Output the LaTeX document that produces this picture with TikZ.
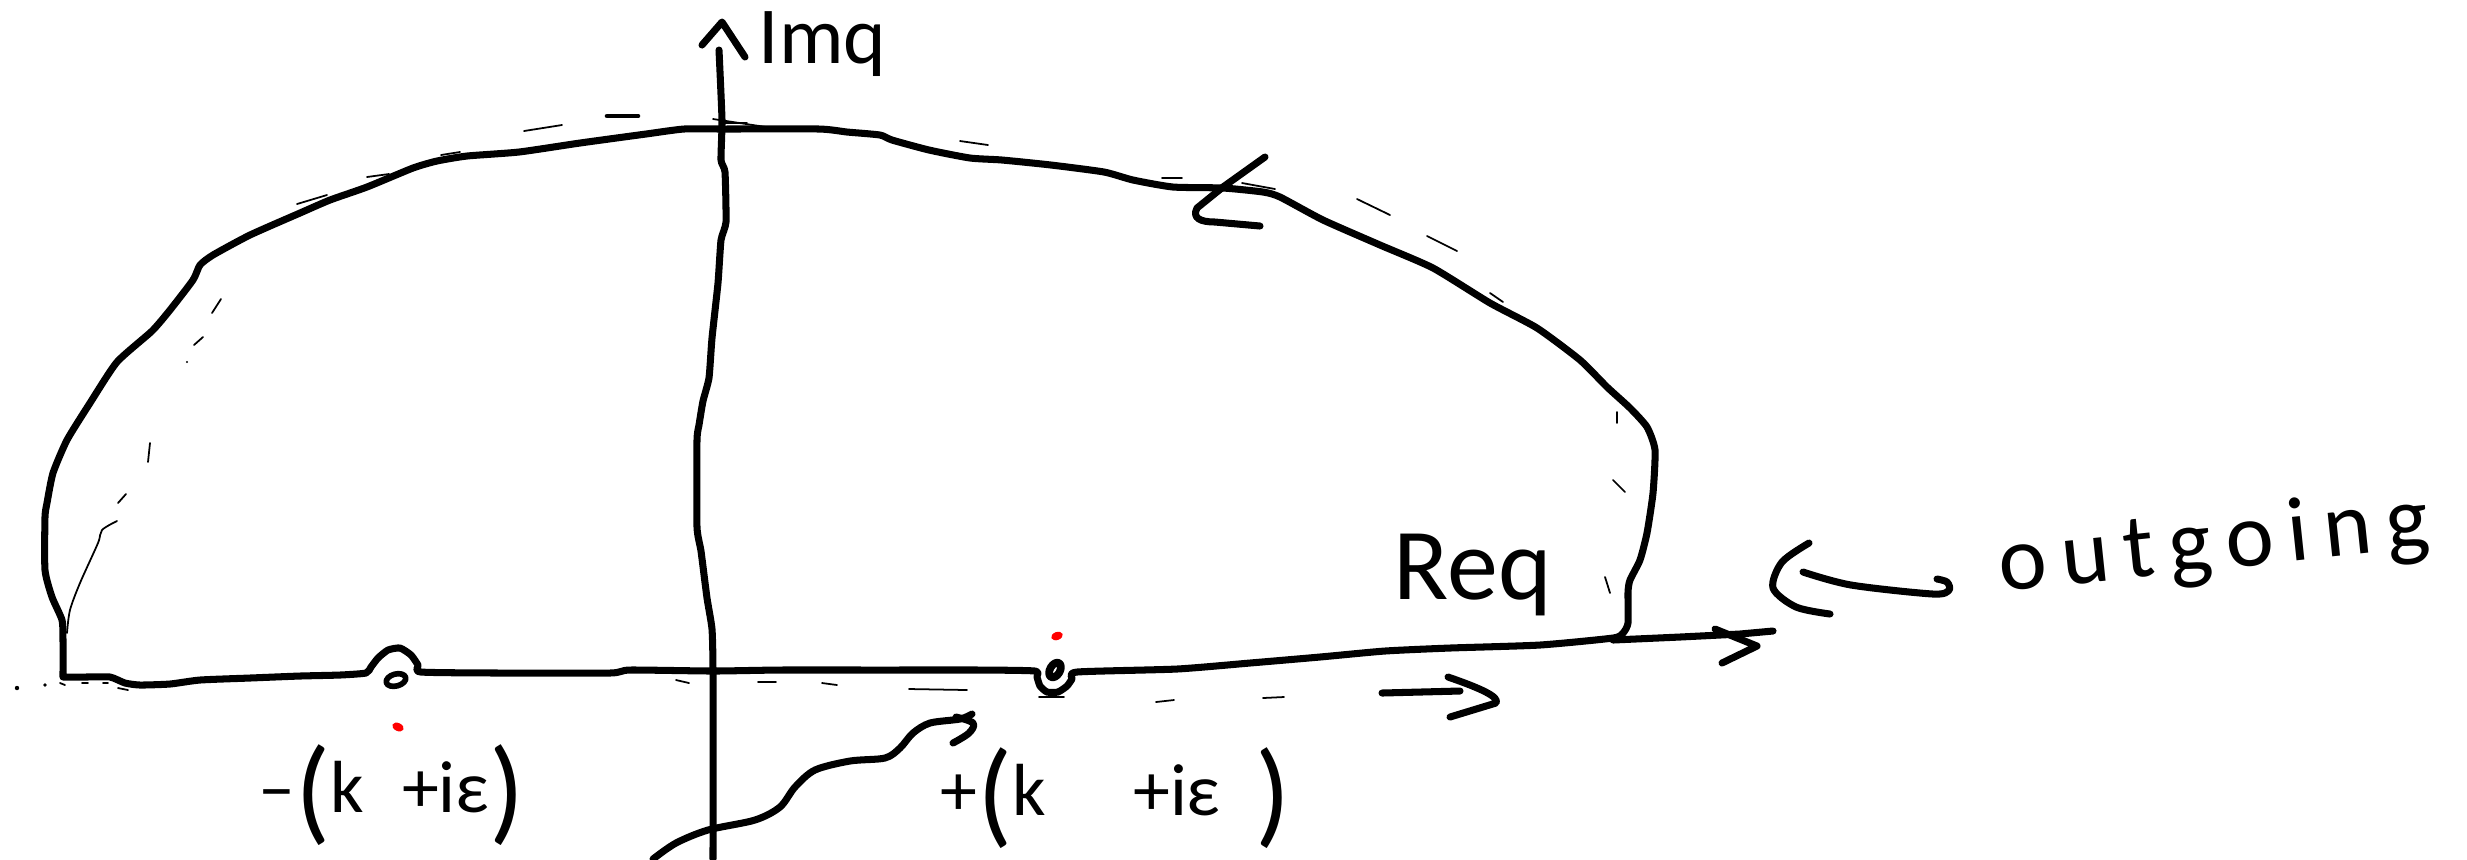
\documentclass[tikz,border=0pt]{standalone}
\usepackage{fontspec}
\setmainfont{Carlito}
\newfontfamily\widehand[LetterSpace=16]{Carlito}
\newcommand{\tallp}[1]{{\fontsize{33}{33}\selectfont\raisebox{-5pt}{#1}}}

\begin{document}
\begin{tikzpicture}[
        x=0.01cm, y=-0.01cm,
        pen/.style={line width=2pt, line cap=round, line join=round},
        faint/.style={line width=0.5pt, line cap=round},
        txt/.style={inner sep=0pt, anchor=base west},
        redmark/.style={fill=red, draw=none}
    ]
        \useasboundingbox (0,0) rectangle (2467,859);
        \fill[white] (0,0) rectangle (2467,859);

        % Contour
        \draw[pen] plot[smooth, tension=0.35] coordinates {
            (63,677) (63,640) (62,620) (52,597) (45,570) (45,517) (47,503) (53,473)
            (67,440) (90,403) (117,362) (152,331) (170,310) (193,280) (200,265) (213,255)
            (250,235) (300,213) (330,200) (367,187) (413,168) (437,161) (467,156) (519,152)
            (580,143) (646,134) (684,129) (724,129) (819,129) (847,132) (880,135) (892,140)
            (929,150) (970,158) (1002,160) (1051,165) (1104,172) (1133,180) (1173,187) (1223,188)
            (1263,192) (1280,197) (1323,220) (1380,245) (1433,268) (1490,303) (1537,328) (1580,360)
            (1607,387) (1630,408) (1647,427) (1655,450) (1653,493) (1647,533) (1640,560) (1630,580)
            (1628,592) (1628,623) (1623,633) (1613,638)
            (1540,645) (1450,648) (1385,651) (1320,657) (1250,663) (1177,669) (1077,672)
            (1072,679) (1067,686) (1058,692) (1047,692) (1040,686) (1037,677) (1035,671)
            (980,670) (880,670) (780,670) (713,671) (630,670) (610,673) (500,673) (421,672)
            (418,665) (411,655) (400,648) (388,650) (378,658) (371,667) (366,673)
            (340,675) (300,676) (250,678) (200,680) (170,684) (140,685) (125,683) (110,677)
            (85,677) (63,677)};

        % direction mark on the contour
        \draw[pen] (1265,157) -- (1223,187) -- (1197,208) .. controls (1192,218) and (1200,222) .. (1215,222) -- (1260,226);

        % Axes
        \draw[pen] plot[smooth, tension=0.3] coordinates {
            (719,50) (722,120) (721,160) (725,172) (726,222) (721,240) (718,283) (712,338)
            (709,378) (703,401) (699,425) (697,440) (697,527) (701,551) (707,598) (712,629)
            (713,672) (713,859)};
        \draw[pen] (702,45) -- (722,22) -- (745,57);
        \draw[pen] (1613,640) -- (1680,637) -- (1740,634) -- (1773,631);
        \draw[pen] (1715,629) -- (1757,646) -- (1722,663);

        % Poles
        \draw[pen, line width=1.6pt, rotate around={15:(396,680)}] (396,680) ellipse (10 and 6);
        \draw[pen, line width=2.2pt, rotate around={-30:(1055,670)}] (1055,670) ellipse (5 and 8);
        \fill[redmark, rotate around={20:(1057,636)}] (1057,636) ellipse (6 and 4);
        \fill[redmark, rotate around={-25:(398,727)}] (398,727) ellipse (6 and 4);

        % Arrows under the axis
        \draw[pen] (1382,693) -- (1460,691);
        \draw[pen] (1448,677) .. controls (1480,688) and (1500,697) .. (1496,703) -- (1450,717);
        \draw[pen] plot[smooth, tension=0.5] coordinates {
            (653,859) (676,843) (708,830) (755,820) (780,807) (795,787) (815,770) (850,761)
            (885,758) (900,748) (913,733) (930,723) (960,719) (972,714)};
        \draw[pen] plot[smooth, tension=0.6] coordinates {(956,717) (973,723) (969,733) (953,743)};

        % Hooked arrow to the word
        \draw[pen] plot[smooth] coordinates {(1809,543) (1782,562) (1773,588) (1796,607) (1830,614)};
        \draw[pen] plot[smooth] coordinates {(1803,572) (1851,585) (1933,594) (1949,590) (1947,582) (1937,579)};

        % Faint strokes
        \foreach \xa/\ya/\xb/\yb in {297/204/327/195, 367/177/389/174, 441/155/460/152, 524/131/562/125,
                212/313/221/299, 194/345/203/337, 148/462/150/443, 118/503/126/494,
                713/119/766/127, 725/123/747/123, 960/141/988/145, 1162/178/1182/178,
                1242/183/1275/189, 1357/199/1390/215, 1427/236/1457/251, 1490/293/1503/302,
                1617/412/1617/423, 1613/480/1625/492, 1605/577/1610/593,
                676/680/689/683, 758/682/776/682, 822/683/837/685, 909/689/967/690,
                1039/697/1064/697, 1156/702/1174/700, 1263/698/1284/697,
                60/683/65/685, 82/683/88/683, 103/683/108/683, 118/688/128/690}
            \draw[faint] (\xa,\ya) -- (\xb,\yb);
        \draw[pen, line width=1.3pt] (607,116) -- (638,116);
        \draw[faint] plot[smooth] coordinates {(117,521) (102,530) (98,543) (80,583) (70,610) (67,633)};
        \fill (17,688) circle (2.2) (45,685) circle (1.8) (187,362) circle (1.2);

        % Labels
        \node[txt, font=\fontsize{23}{27}\selectfont] (imq) at (758,63) {Imq};
        \node[txt, font=\fontsize{29}{34}\selectfont] (req) at (1393,599) {Req};
        \node[txt, font=\fontsize{21}{25}\selectfont] (lowpole) at (258,812) {–\tallp{(}k\hspace{6pt} +iε\tallp{)}};
        \node[txt, font=\fontsize{21}{25}\selectfont] (uppole) at (940,815) {+\tallp{(}k\hspace{20pt} +iε\hspace{10pt}\tallp{)}};
        \node[txt, rotate=6, font=\widehand\fontsize{26}{31}\selectfont] (outgoing) at (2001,592) {outgoing};
    \end{tikzpicture}
\end{document}
